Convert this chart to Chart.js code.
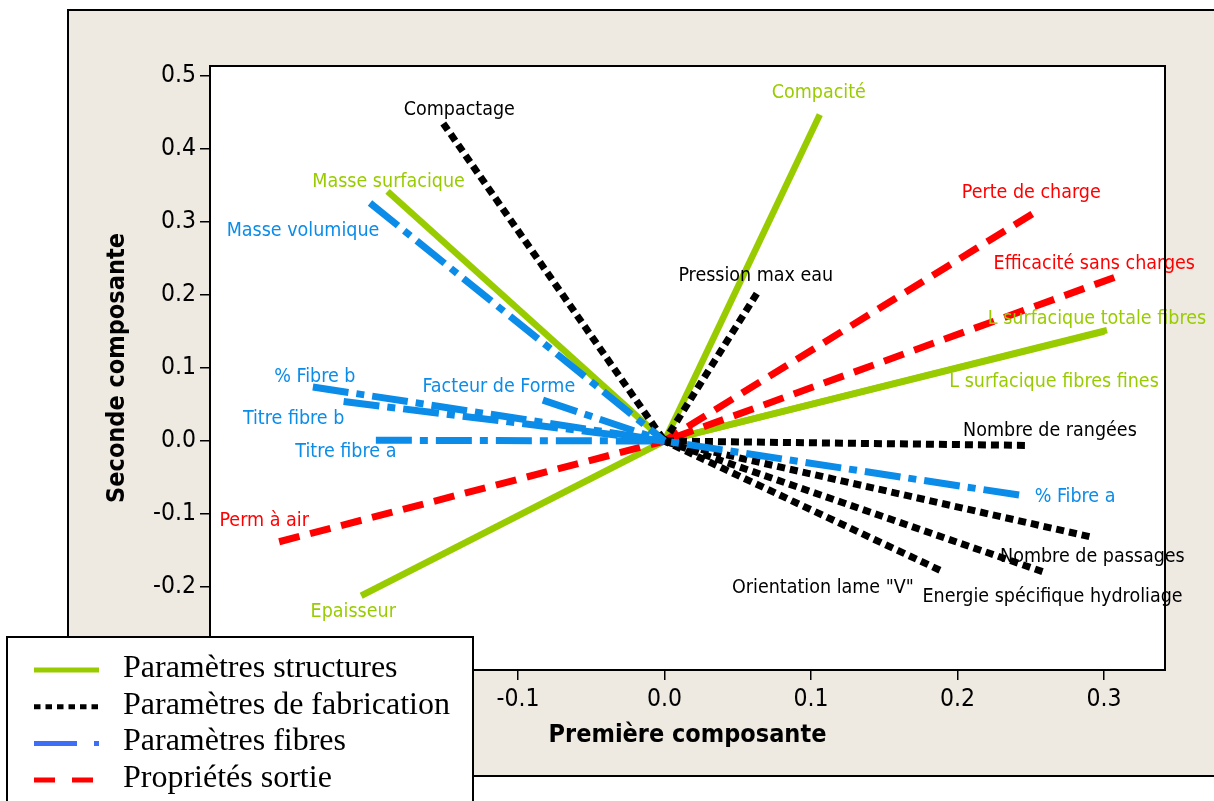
<!DOCTYPE html>
<html lang="fr">
<head>
<meta charset="UTF-8">
<title>Cercle des corrélations - composantes 1 et 2</title>
<script src="https://cdnjs.cloudflare.com/ajax/libs/Chart.js/4.4.1/chart.umd.min.js"></script>
<style>
  body {
    margin: 0;
    padding: 0;
    background-color: #ffffff;
  }
  #wrap {
    width: 1214px;
    height: 801px;
  }
</style>
</head>
<body>

<div id="wrap">
  <canvas id="pcaChart" width="1214" height="801"></canvas>
</div>

<script>
// loadings (first and second component)
const variables = [
  'Compactage', 'Masse surfacique', 'Masse volumique', '% Fibre b', 'Titre fibre b',
  'Facteur de Forme', 'Titre fibre a', 'Perm à air', 'Epaisseur', 'Compacité',
  'Perte de charge', 'Efficacité sans charges', 'Pression max eau', 'L surfacique totale fibres',
  'L surfacique fibres fines', 'Nombre de rangées', '% Fibre a', 'Nombre de passages',
  'Energie spécifique hydroliage', 'Orientation lame "V"'
];
const pc1 = [
  -0.151, -0.189, -0.201, -0.240, -0.219,
  -0.083, -0.197, -0.263, -0.207, 0.106,
  0.251, 0.307, 0.063, 0.302,
  0.300, 0.246, 0.242, 0.290,
  0.258, 0.188
];
const pc2 = [
  0.435, 0.342, 0.326, 0.074, 0.054,
  0.056, 0.001, -0.138, -0.212, 0.447,
  0.311, 0.224, 0.202, 0.152,
  0.150, -0.006, -0.074, -0.131,
  -0.179, -0.177
];
const groups = [
  'fabrication', 'structure', 'fibres', 'fibres', 'fibres',
  'fibres', 'fibres', 'sortie', 'structure', 'structure',
  'sortie', 'sortie', 'fabrication', 'structure',
  'structure', 'fabrication', 'fibres', 'fabrication',
  'fabrication', 'fabrication'
];

// legend
const legendGroups = ['structure', 'fabrication', 'fibres', 'sortie'];
const legendLabels = ['Paramètres structures', 'Paramètres de fabrication', 'Paramètres fibres', 'Propriétés sortie'];

// axes
const xTitle = 'Première composante';
const yTitle = 'Seconde composante';

// label placement: pixel offset of each label centre from the tip of its vector
const labelOffsets = [
  [16, -14], [1, -9], [-67, 28], [2, -10], [-50, 17],
  [-44, -13], [-30, 12], [-15, -21], [-8, 16], [-1, -22],
  [-1, -21], [-20, -14], [-1, -18], [-10, -11],
  [-50, 50], [25, -14], [56, 2], [3, 20],
  [10, 25], [-117, 18]
];

const groupStyle = {
  structure:   { color: '#99CC00', legendColor: '#99CC00', dash: [], legendDash: [], width: 6.5, order: 3 },
  fabrication: { color: '#000000', legendColor: '#000000', dash: [8, 5], legendDash: [6.5, 5], width: 7, order: 1 },
  fibres:      { color: '#0B8CE9', legendColor: '#3D6EF5', dash: [36, 8, 8, 8], legendDash: [43, 17, 5, 30], width: 7, order: 0 },
  sortie:      { color: '#FF0000', legendColor: '#FF0000', dash: [21, 11], legendDash: [21, 17], width: 7, order: 2 }
};

const panelColor = '#EEEAE1';
const sansFont = '"DejaVu Sans Condensed", "DejaVu Sans", sans-serif';

// one dataset per variable: a segment from the tip back to the origin
const datasets = variables.map((name, i) => {
  const st = groupStyle[groups[i]];
  return {
    label: name,
    data: [{ x: pc1[i], y: pc2[i] }, { x: 0, y: 0 }],
    showLine: true,
    borderColor: st.color,
    borderWidth: st.width,
    borderDash: st.dash,
    borderCapStyle: 'butt',
    pointRadius: 0,
    order: st.order
  };
});

const decorPlugin = {
  id: 'decor',
  beforeDraw(chart) {
    const ctx = chart.ctx;
    const a = chart.chartArea;
    ctx.save();
    ctx.fillStyle = '#ffffff';
    ctx.fillRect(0, 0, chart.width, chart.height);
    // beige panel behind the plot
    ctx.fillStyle = panelColor;
    ctx.fillRect(68, 10, chart.width, 766);
    ctx.strokeStyle = '#000000';
    ctx.lineWidth = 2;
    ctx.beginPath();
    ctx.moveTo(chart.width + 5, 10);
    ctx.lineTo(68, 10);
    ctx.lineTo(68, 776);
    ctx.lineTo(chart.width + 5, 776);
    ctx.stroke();
    ctx.fillStyle = '#ffffff';
    ctx.fillRect(a.left, a.top, a.right - a.left, a.bottom - a.top);
    ctx.restore();
  },
  afterDatasetsDraw(chart) {
    const ctx = chart.ctx;
    const xs = chart.scales.x;
    const ys = chart.scales.y;
    ctx.save();
    ctx.font = '19.5px ' + sansFont;
    ctx.textAlign = 'center';
    ctx.textBaseline = 'middle';
    variables.forEach((name, i) => {
      const px = xs.getPixelForValue(pc1[i]) + labelOffsets[i][0];
      const py = ys.getPixelForValue(pc2[i]) + labelOffsets[i][1];
      ctx.fillStyle = groupStyle[groups[i]].color;
      ctx.fillText(name, px, py);
    });
    ctx.restore();
  },
  afterDraw(chart) {
    const ctx = chart.ctx;
    const a = chart.chartArea;
    ctx.save();
    // plot frame
    ctx.strokeStyle = '#000000';
    ctx.lineWidth = 2;
    ctx.strokeRect(a.left, a.top, a.right - a.left, a.bottom - a.top);

    // legend box, overlapping the lower left corner
    ctx.fillStyle = '#ffffff';
    ctx.fillRect(7, 637, 466, 200);
    ctx.strokeRect(7, 637, 466, 200);
    ctx.font = '32px "Liberation Serif", serif';
    ctx.textAlign = 'left';
    ctx.textBaseline = 'alphabetic';
    legendGroups.forEach((g, k) => {
      const st = groupStyle[g];
      const base = 677 + k * 36.7;
      ctx.beginPath();
      ctx.setLineDash(st.legendDash);
      ctx.lineCap = 'butt';
      ctx.lineWidth = 5;
      ctx.strokeStyle = st.legendColor;
      ctx.moveTo(34, base - 7);
      ctx.lineTo(99, base - 7);
      ctx.stroke();
      ctx.setLineDash([]);
      ctx.fillStyle = '#000000';
      ctx.fillText(legendLabels[k], 123, base);
    });
    ctx.restore();
  }
};

function tickLabel(v) {
  if (Math.abs(v) < 1e-9) return '0.0';
  return v.toFixed(1);
}

new Chart(document.getElementById('pcaChart').getContext('2d'), {
  type: 'scatter',
  data: { datasets: datasets },
  options: {
    responsive: false,
    animation: false,
    layout: { padding: { top: 66, right: 49, left: 0, bottom: 0 } },
    plugins: {
      legend: { display: false },
      tooltip: { enabled: false }
    },
    scales: {
      x: {
        type: 'linear',
        min: -0.3102,
        max: 0.3416,
        afterFit: (scale) => { scale.height = 131; },
        border: { display: false },
        grid: { drawOnChartArea: false, drawTicks: true, tickLength: 10, color: '#000000', lineWidth: 1.5 },
        ticks: {
          stepSize: 0.1,
          includeBounds: false,
          padding: 5,
          maxRotation: 0,
          color: '#000000',
          font: { family: sansFont, size: 24.5 },
          callback: tickLabel
        },
        title: {
          display: true,
          text: xTitle,
          color: '#000000',
          font: { family: sansFont, size: 25, weight: 'bold' },
          padding: { top: 0, bottom: 51 }
        }
      },
      y: {
        type: 'linear',
        min: -0.3137,
        max: 0.5137,
        afterFit: (scale) => { scale.width = 210; },
        border: { display: false },
        grid: { drawOnChartArea: false, drawTicks: true, tickLength: 10, color: '#000000', lineWidth: 1.5 },
        ticks: {
          stepSize: 0.1,
          includeBounds: false,
          padding: 4,
          color: '#000000',
          font: { family: sansFont, size: 24.5 },
          callback: tickLabel
        },
        title: {
          display: true,
          text: yTitle,
          color: '#000000',
          font: { family: sansFont, size: 25, weight: 'bold' },
          padding: { top: 102, bottom: 0 }
        }
      }
    }
  },
  plugins: [decorPlugin]
});
</script>

</body>
</html>
